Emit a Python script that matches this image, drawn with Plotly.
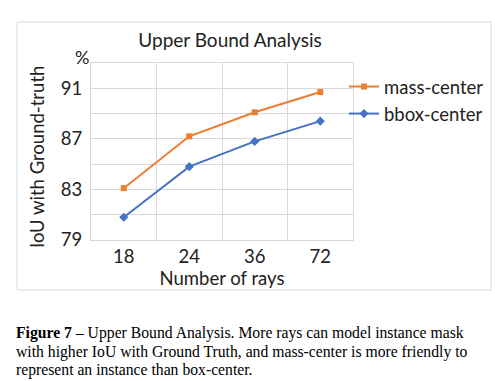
import plotly.graph_objects as go

rays = ["18", "24", "36", "72"]
mass_center = [83.1, 87.2, 89.1, 90.7]
bbox_center = [80.8, 84.8, 86.8, 88.4]
y_ticks = [79, 83, 87, 91]
caption_lines = [
    "<b>Figure 7</b> – Upper Bound Analysis. More rays can model instance mask",
    "with higher IoU with Ground Truth, and mass-center is more friendly to",
    "represent an instance than box-center.",
]

FONT = "Lato"
GRID = "#D9D9D9"
TXT = "#222222"

fig = go.Figure()
fig.add_trace(go.Scatter(
    x=rays, y=mass_center, name="mass-center", mode="lines+markers",
    line=dict(color="#ED7D31", width=2),
    marker=dict(symbol="square", size=6, color="#ED7D31"),
))
fig.add_trace(go.Scatter(
    x=rays, y=bbox_center, name="bbox-center", mode="lines+markers",
    line=dict(color="#4472C4", width=2),
    marker=dict(symbol="diamond", size=7, color="#4472C4"),
))

L, R, T, B = 91, 353, 63, 240
W, H = 495, 381
pw, ph = R - L, B - T


def px(x):
    return (x - L) / pw


def py(y):
    return (B - y) / ph


annotations = [
    dict(text="%", xref="paper", yref="paper", x=px(82), y=py(57),
         xanchor="center", yanchor="middle", showarrow=False,
         font=dict(size=18, color=TXT)),
    dict(text="IoU with Ground-truth", xref="paper", yref="paper",
         x=px(37), y=py(157), xanchor="center", yanchor="middle",
         textangle=-90, showarrow=False, font=dict(size=18.5, color=TXT)),
]
for i, line in enumerate(caption_lines):
    annotations.append(dict(
        text=line, xref="paper", yref="paper", x=px(14), y=py(333 + 18.5 * i),
        xanchor="left", yanchor="middle", align="left", showarrow=False,
        font=dict(family="Liberation Serif", size=15.7, color="black")))

fig.update_layout(
    width=W, height=H,
    margin=dict(l=L, r=W - R, t=T, b=H - B, autoexpand=False),
    paper_bgcolor="white", plot_bgcolor="white",
    font=dict(family=FONT, color=TXT, size=18),
    title=dict(text="Upper Bound Analysis", x=230 / W, xanchor="center",
               y=1 - 40 / H, yanchor="middle",
               font=dict(family=FONT, size=19, color=TXT)),
    legend=dict(x=px(344), y=py(68), xanchor="left", yanchor="top",
                font=dict(family=FONT, size=18.5, color=TXT),
                itemwidth=30, tracegroupgap=0, bgcolor="rgba(0,0,0,0)"),
    xaxis=dict(
        type="category", range=[-0.5, 3.5], tickson="boundaries",
        showgrid=True, gridcolor=GRID,
        gridwidth=1, showline=True, linecolor=GRID, mirror=True,
        ticks="", tickfont=dict(size=18.5), ticklabelstandoff=0,
        title=dict(text="Number of rays", font=dict(size=18.5), standoff=2),
        zeroline=False,
    ),
    yaxis=dict(
        range=[79, 93], tickvals=y_ticks, showgrid=True, gridcolor=GRID,
        showline=True, linecolor=GRID, mirror=True, ticks="",
        tickfont=dict(size=18.5), zeroline=False, ticklabelstandoff=4,
        minor=dict(dtick=2, tick0=79, showgrid=True, gridcolor=GRID),
    ),
    shapes=[dict(type="rect", xref="paper", yref="paper",
                 x0=px(17), x1=px(491), y0=py(290), y1=py(22),
                 line=dict(color="#D9D9D9", width=1), layer="below")],
    annotations=annotations,
)

fig.write_html("out.html", config={"displayModeBar": False},
               post_script="document.body.style.margin='0';")
